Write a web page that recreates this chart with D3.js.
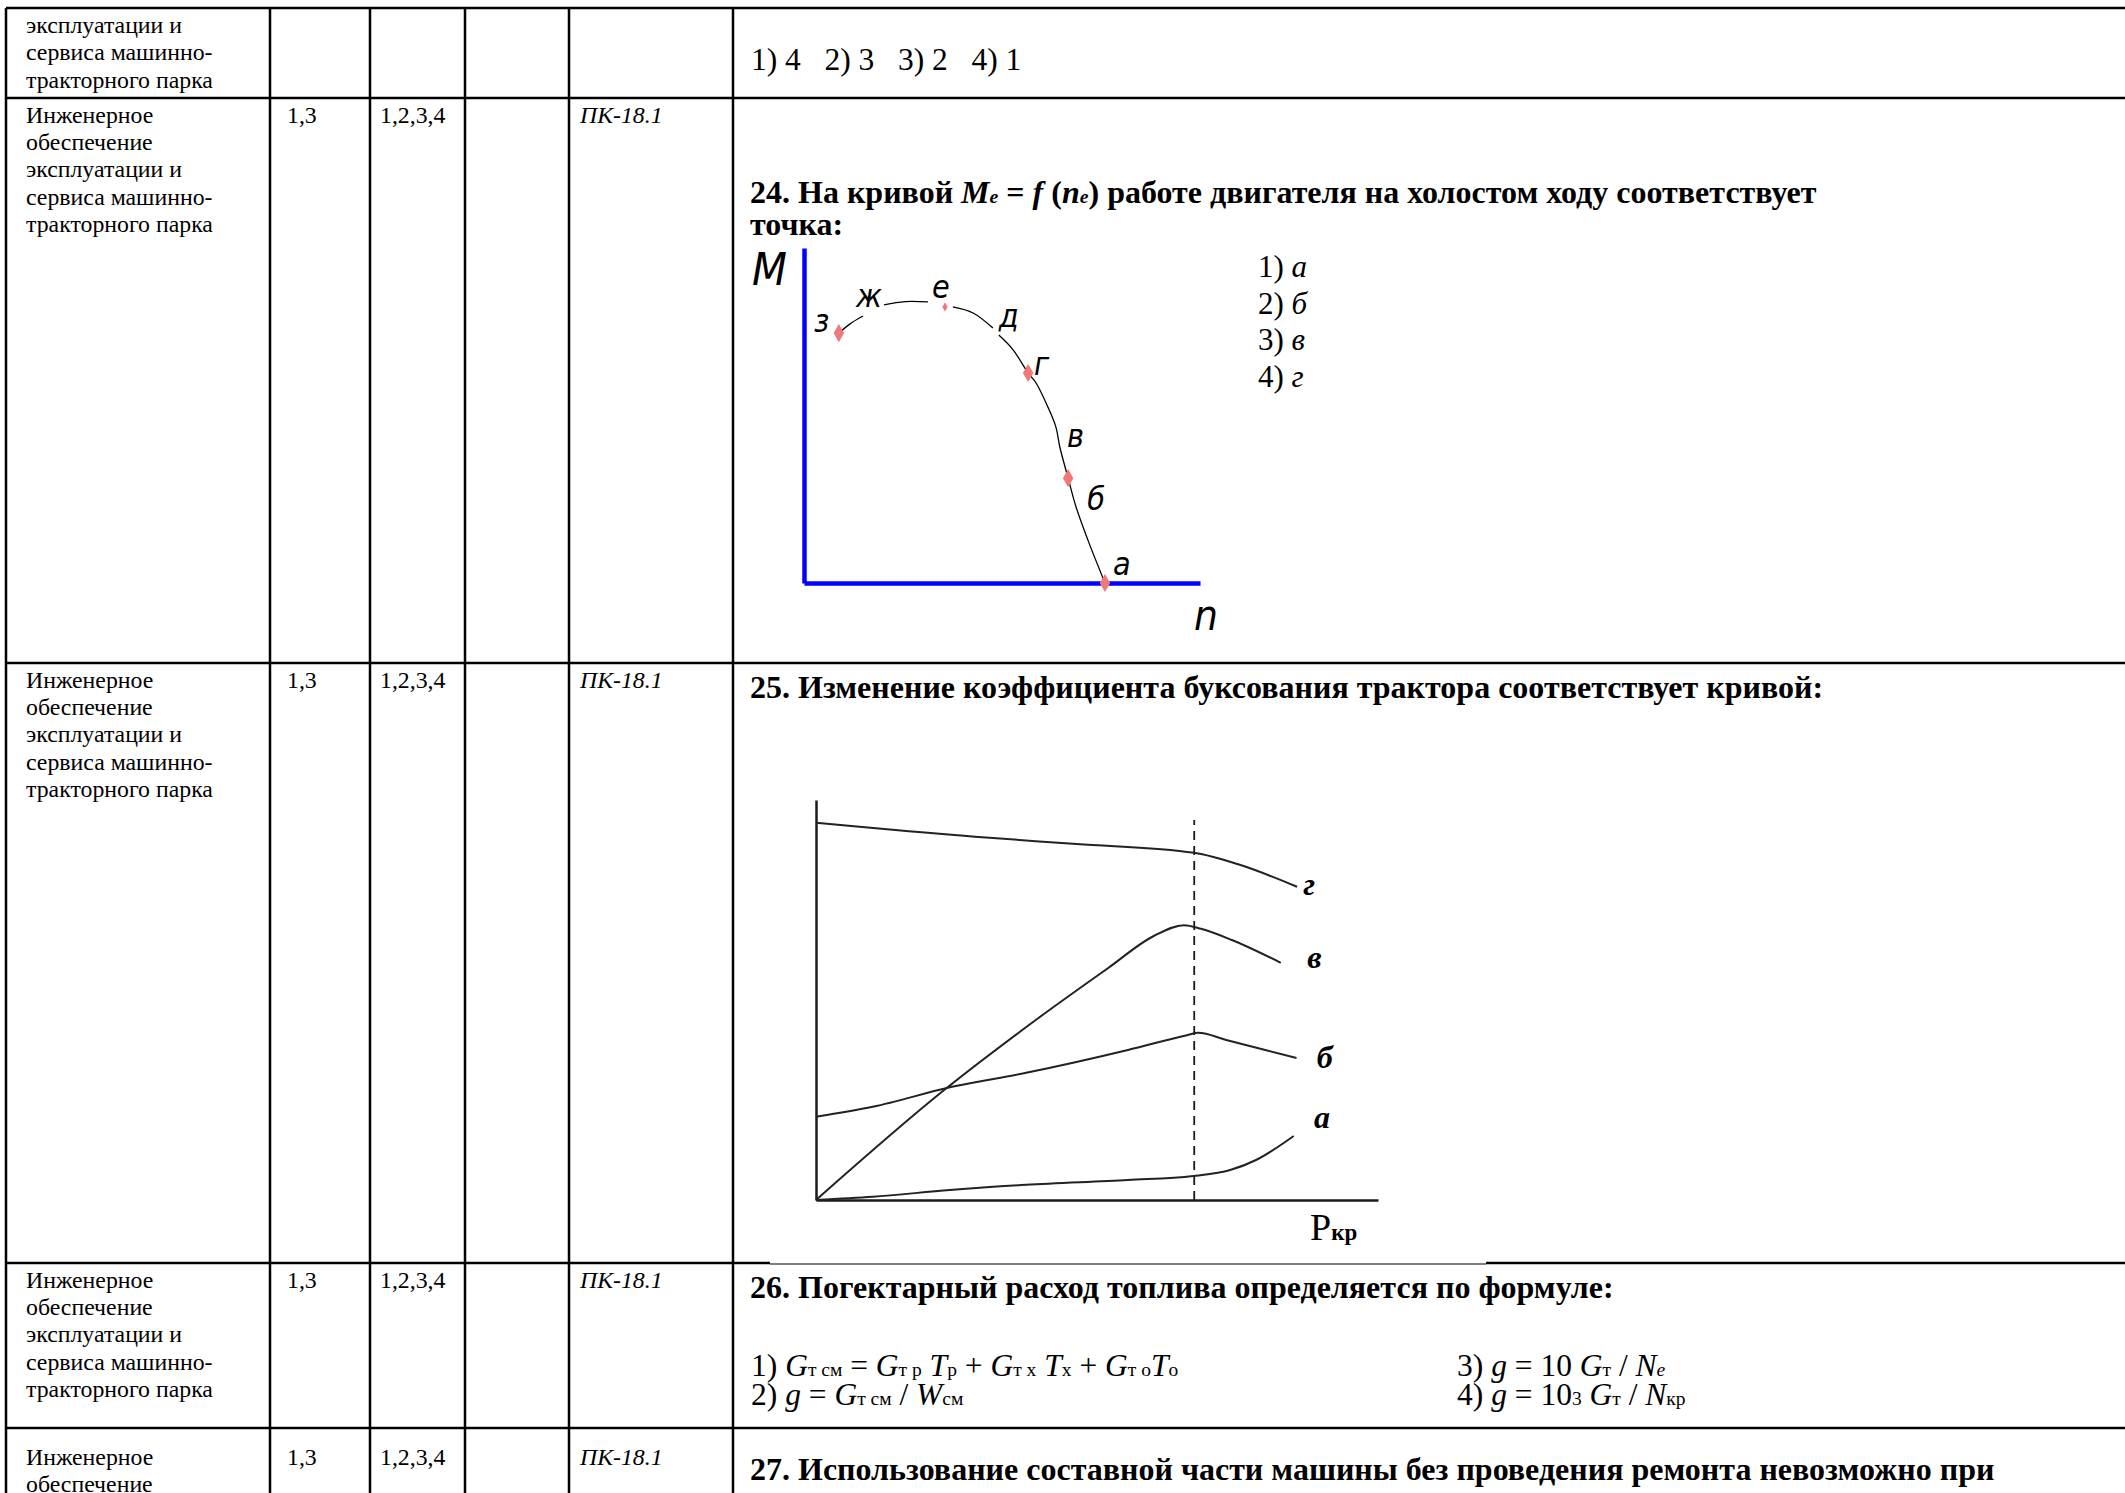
<!DOCTYPE html>
<html>
<head>
<meta charset="utf-8">
<script src="https://cdn.jsdelivr.net/npm/d3@7"></script>
<style>
    body { margin: 0; background: #fff; }
    text { white-space: pre; }
</style>
</head>
<body>
<script>
// ---- table content ----
var firstRowLines = ['эксплуатации и', 'сервиса машинно-', 'тракторного парка'];
var competenceLines = ['Инженерное', 'обеспечение', 'эксплуатации и', 'сервиса машинно-', 'тракторного парка'];
var semesters = ['1,3', '1,3', '1,3', '1,3'];
var stages = ['1,2,3,4', '1,2,3,4', '1,2,3,4', '1,2,3,4'];
var competences = ['ПК-18.1', 'ПК-18.1', 'ПК-18.1', 'ПК-18.1'];
var prevAnswers = '1) 4   2) 3   3) 2   4) 1';

// question texts, parts: t = text, i = italic, s = small (index)
var q24Title = [
    { t: '24. На кривой ' }, { t: 'M', i: 1 }, { t: 'e', i: 1, s: 1 }, { t: ' = ' }, { t: 'f', i: 1 },
    { t: ' (' }, { t: 'n', i: 1 }, { t: 'e', i: 1, s: 1 }, { t: ') работе двигателя на холостом ходу соответствует' }
];
var q24Title2 = 'точка:';
var q24Options = ['а', 'б', 'в', 'г'];
var q25Title = '25. Изменение коэффициента буксования трактора соответствует кривой:';
var q26Title = '26. Погектарный расход топлива определяется по формуле:';
var q26Left = [
    [{ t: '1) ' }, { t: 'G', i: 1 }, { t: 'т см', s: 1 }, { t: ' = ' }, { t: 'G', i: 1 }, { t: 'т р', s: 1 }, { t: ' ' },
     { t: 'T', i: 1 }, { t: 'р', s: 1 }, { t: ' + ' }, { t: 'G', i: 1 }, { t: 'т х', s: 1 }, { t: ' ' }, { t: 'T', i: 1 },
     { t: 'х', s: 1 }, { t: ' + ' }, { t: 'G', i: 1 }, { t: 'т о', s: 1 }, { t: 'T', i: 1 }, { t: 'о', s: 1 }],
    [{ t: '2) ' }, { t: 'g', i: 1 }, { t: ' = ' }, { t: 'G', i: 1 }, { t: 'т см', s: 1 }, { t: ' / ' }, { t: 'W', i: 1 }, { t: 'см', s: 1 }]
];
var q26Right = [
    [{ t: '3) ' }, { t: 'g', i: 1 }, { t: ' = 10 ' }, { t: 'G', i: 1 }, { t: 'т', s: 1 }, { t: ' / ' }, { t: 'N', i: 1 }, { t: 'e', i: 1, s: 1 }],
    [{ t: '4) ' }, { t: 'g', i: 1 }, { t: ' = 10' }, { t: '3', s: 1 }, { t: ' ' }, { t: 'G', i: 1 }, { t: 'т', s: 1 }, { t: ' / ' }, { t: 'N', i: 1 }, { t: 'кр', s: 1 }]
];
var q27Title = '27. Использование составной части машины без проведения ремонта невозможно при';

// ---- chart 24: M = f(n), null breaks the line where a letter sits ----
var mnCurve = [
    [0.88, 7.46], [1.18, 7.75], [1.49, 7.97], null,
    [2.02, 8.30], [2.55, 8.40], [3.13, 8.39], null,
    [3.76, 8.24], [4.27, 8.06], [4.77, 7.61], null,
    [4.92, 7.40], [5.28, 6.96], [5.66, 6.27], [5.86, 5.97], [6.16, 5.25], [6.36, 4.66],
    [6.46, 4.06], [6.67, 3.13], [6.87, 2.27], [7.17, 1.28], [7.60, 0.0]
];
var mnMarkers = [[0.88, 7.46], [3.56, 8.24], [5.66, 6.27], [6.67, 3.13], [7.60, 0.0]];
var mnLabels = [
    { t: 'з', n: 0.25, m: 7.49 }, { t: 'ж', n: 1.31, m: 8.24 }, { t: 'е', n: 3.23, m: 8.51 },
    { t: 'д', n: 4.92, m: 7.64 }, { t: 'г', n: 5.81, m: 6.21 }, { t: 'в', n: 6.64, m: 4.06 },
    { t: 'б', n: 7.15, m: 2.18 }, { t: 'а', n: 7.80, m: 0.24 }
];

// ---- chart 25: slip curves vs drawbar pull ----
var slipSeries = [
    { name: 'г', lx: 8.67, ly: 7.63, values: [[0, 9.43], [2.83, 9.08], [4.64, 8.9], [6.73, 8.68], [7.54, 8.38], [8.56, 7.83]] },
    { name: 'в', lx: 8.74, ly: 5.8, values: [[0, 0], [2.28, 2.75], [3.91, 4.5], [5.2, 5.8], [6.01, 6.6], [6.55, 6.87], [6.85, 6.78], [7.4, 6.5], [8.27, 5.93]] },
    { name: 'б', lx: 8.91, ly: 3.3, values: [[0, 2.08], [1.01, 2.33], [2.42, 2.83], [3.74, 3.18], [5.55, 3.75], [6.6, 4.12], [6.8, 4.18], [7.3, 4.0], [8.55, 3.55]] },
    { name: 'а', lx: 8.86, ly: 1.8, values: [[0, 0], [1.01, 0.08], [2.38, 0.25], [3.74, 0.38], [5.55, 0.5], [6.71, 0.6], [7.37, 0.75], [7.83, 1.0], [8.5, 1.6]] }
];
var nominalPull = 6.73;

var SERIF = '"Liberation Serif", "Times New Roman", serif';
var GOST = '"Liberation Sans Narrow", "DejaVu Sans Condensed", "Liberation Sans", sans-serif';
var W = 2125, H = 1493;

var svg = d3.select('body').append('svg').attr('width', W).attr('height', H);
svg.append('rect').attr('width', W).attr('height', H).attr('fill', '#fff');

function rich(sel, x, y, parts, size, bold) {
    var t = sel.append('text')
        .attr('x', x).attr('y', y)
        .attr('font-family', SERIF)
        .attr('font-size', size)
        .attr('font-weight', bold ? 'bold' : 'normal')
        .attr('fill', '#000');
    parts.forEach(function (p) {
        t.append('tspan')
            .text(p.t)
            .attr('font-style', p.i ? 'italic' : null)
            .attr('font-size', p.s ? size * 0.62 : null);
    });
    return t;
}

// ---- table grid ----
var colX = [6, 270, 370, 465, 569, 733];
var rowY = [8, 98, 663, 1263, 1428];
var textTop = [25, 25, 25, 37]; // first baseline below each row rule
var grid = svg.append('g').attr('stroke', '#000').attr('stroke-width', 2.5);

rowY.forEach(function (y, i) {
    if (i === 3) {
        // under the scanned picture the rule is thin
        grid.append('line').attr('x1', colX[0]).attr('x2', 770).attr('y1', y).attr('y2', y);
        grid.append('line').attr('x1', 770).attr('x2', 1486).attr('y1', y + 1).attr('y2', y + 1).attr('stroke-width', 1.2);
        grid.append('line').attr('x1', 1486).attr('x2', W).attr('y1', y).attr('y2', y);
    } else {
        grid.append('line').attr('x1', colX[0]).attr('x2', W).attr('y1', y).attr('y2', y);
    }
});
colX.forEach(function (x) {
    grid.append('line').attr('x1', x).attr('x2', x).attr('y1', rowY[0]).attr('y2', H);
});

var body = svg.append('g').attr('font-family', SERIF).attr('font-size', 23.8).attr('fill', '#000');

firstRowLines.forEach(function (s, k) {
    body.append('text').attr('x', 26).attr('y', 33 + k * 27.3).text(s);
});
semesters.forEach(function (sem, r) {
    var top = rowY[r + 1] + textTop[r];
    competenceLines.forEach(function (s, k) {
        var y = top + k * 27.2;
        if (y <= H) body.append('text').attr('x', 26).attr('y', y).text(s);
    });
    body.append('text').attr('x', 287).attr('y', top).text(sem);
    body.append('text').attr('x', 380).attr('y', top).text(stages[r]);
    body.append('text').attr('x', 580).attr('y', top).attr('font-style', 'italic').text(competences[r]);
});

// ---- last column texts ----
var main = svg.append('g');
rich(main, 751, 70, [{ t: prevAnswers }], 31.5, false);

rich(main, 750, 203, q24Title, 32, true);
rich(main, 750, 235, [{ t: q24Title2 }], 32, true);
q24Options.forEach(function (o, k) {
    rich(main, 1258, 277 + k * 36.5, [{ t: (k + 1) + ') ' }, { t: o, i: 1 }], 31, false);
});

rich(main, 750, 698, [{ t: q25Title }], 32, true);

rich(main, 750, 1298, [{ t: q26Title }], 32, true);
q26Left.forEach(function (p, k) { rich(main, 751, 1376 + k * 29, p, 31.5, false); });
q26Right.forEach(function (p, k) { rich(main, 1457, 1376 + k * 29, p, 31.5, false); });

rich(main, 750, 1480, [{ t: q27Title }], 32, true);

// ---- chart 24 ----
var mx = d3.scaleLinear().domain([0, 10]).range([804, 1200]);
var my = d3.scaleLinear().domain([0, 10]).range([583, 248]);
var c24 = svg.append('g');

c24.append('g')
    .attr('transform', 'translate(0,' + my(0) + ')')
    .call(d3.axisBottom(mx).tickValues([]).tickSizeOuter(0))
    .select('.domain').attr('stroke', '#0000ff').attr('stroke-width', 4.5);
c24.append('g')
    .attr('transform', 'translate(' + mx(0) + ',0)')
    .call(d3.axisLeft(my).tickValues([]).tickSizeOuter(0))
    .select('.domain').attr('stroke', '#0000ff').attr('stroke-width', 4.5);

var mnLine = d3.line()
    .defined(function (d) { return d !== null; })
    .x(function (d) { return mx(d[0]); })
    .y(function (d) { return my(d[1]); })
    .curve(d3.curveCatmullRom.alpha(0.5));

c24.append('path')
    .attr('d', mnLine(mnCurve))
    .attr('fill', 'none')
    .attr('stroke', '#000')
    .attr('stroke-width', 1.3);

c24.selectAll('path.mark')
    .data(mnMarkers)
    .enter()
    .append('path')
    .attr('class', 'mark')
    .attr('transform', function (d) { return 'translate(' + mx(d[0]) + ',' + my(d[1]) + ')'; })
    .attr('d', function (d, i) { return d3.symbol().type(d3.symbolDiamond).size(i === 1 ? 25 : 95)(); })
    .attr('fill', '#f07878');

c24.selectAll('text.lbl')
    .data(mnLabels)
    .enter()
    .append('text')
    .attr('class', 'lbl')
    .attr('x', function (d) { return mx(d.n); })
    .attr('y', function (d) { return my(d.m); })
    .attr('font-family', GOST)
    .attr('font-style', 'italic')
    .attr('font-size', 32)
    .attr('fill', '#000')
    .text(function (d) { return d.t; });

c24.append('text').attr('x', mx(-1.31)).attr('y', my(8.9))
    .attr('font-family', GOST).attr('font-style', 'italic').attr('font-size', 45).text('M');
c24.append('text').attr('x', mx(9.85)).attr('y', my(-1.4))
    .attr('font-family', GOST).attr('font-style', 'italic').attr('font-size', 42).text('n');

// ---- chart 25 ----
var px = d3.scaleLinear().domain([0, 10]).range([816, 1378]);
var py = d3.scaleLinear().domain([0, 10]).range([1200, 800]);
var c25 = svg.append('g');

c25.append('g')
    .attr('transform', 'translate(0,' + py(0) + ')')
    .call(d3.axisBottom(px).tickValues([]).tickSizeOuter(0))
    .select('.domain').attr('stroke', '#1a1a1a').attr('stroke-width', 2.5);
c25.append('g')
    .attr('transform', 'translate(' + px(0) + ',0)')
    .call(d3.axisLeft(py).tickValues([]).tickSizeOuter(0))
    .select('.domain').attr('stroke', '#1a1a1a').attr('stroke-width', 2.5);

c25.append('line')
    .attr('x1', px(nominalPull)).attr('x2', px(nominalPull))
    .attr('y1', py(0)).attr('y2', py(9.5))
    .attr('stroke', '#1a1a1a').attr('stroke-width', 1.8)
    .attr('stroke-dasharray', '9,6');

var slipLine = d3.line()
    .x(function (d) { return px(d[0]); })
    .y(function (d) { return py(d[1]); })
    .curve(d3.curveMonotoneX);

c25.selectAll('path.slip')
    .data(slipSeries)
    .enter()
    .append('path')
    .attr('class', 'slip')
    .attr('d', function (d) { return slipLine(d.values); })
    .attr('fill', 'none')
    .attr('stroke', '#222')
    .attr('stroke-width', 2);

c25.selectAll('text.slipLbl')
    .data(slipSeries)
    .enter()
    .append('text')
    .attr('class', 'slipLbl')
    .attr('x', function (d) { return px(d.lx); })
    .attr('y', function (d) { return py(d.ly); })
    .attr('font-family', SERIF)
    .attr('font-style', 'italic')
    .attr('font-weight', 'bold')
    .attr('font-size', 32)
    .text(function (d) { return d.name; });

var pLabel = c25.append('text').attr('x', px(8.79)).attr('y', py(-1.0))
    .attr('font-family', SERIF).attr('font-size', 38);
pLabel.append('tspan').text('P');
pLabel.append('tspan').text('кр').attr('font-size', 23).attr('font-weight', 'bold');
</script>
</body>
</html>
